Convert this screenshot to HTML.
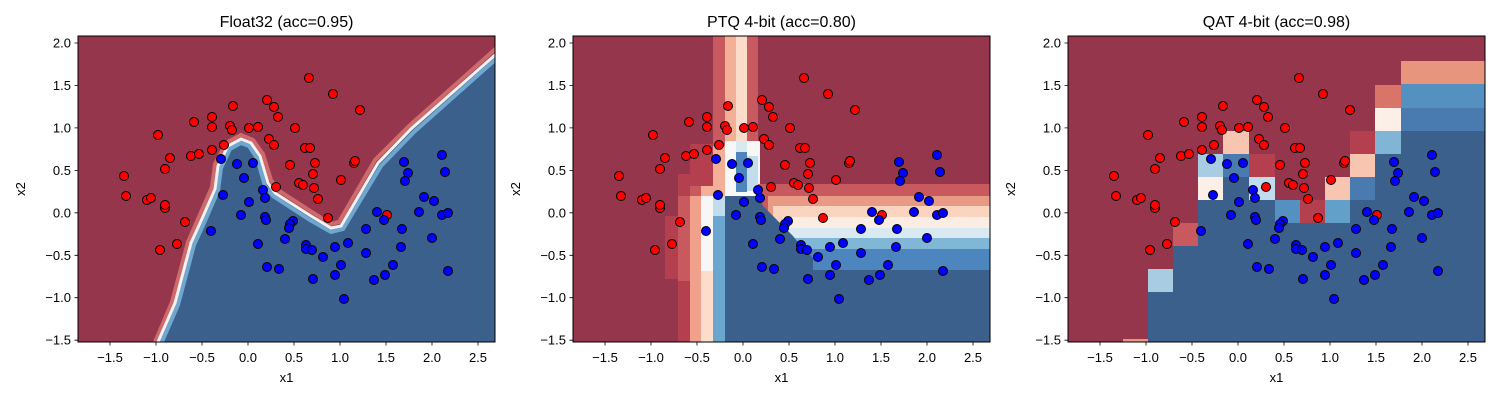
<!DOCTYPE html>
<html><head><meta charset="utf-8"><style>
body{margin:0;background:#fff;}
svg{display:block;font-family:"Liberation Sans","DejaVu Sans",sans-serif;}
.tl{font-size:13px;fill:#000;}
.tt{font-size:16px;fill:#000;}
</style></head><body>
<svg width="1500" height="400" viewBox="0 0 1500 400" xmlns="http://www.w3.org/2000/svg">
<defs>
<clipPath id="cp"><rect x="0" y="0" width="417" height="306"/></clipPath>
<g id="pts" stroke="#000" stroke-width="1">
<g fill="#ff0000">
<circle cx="231" cy="42" r="4.5"/><circle cx="255" cy="58" r="4.5"/><circle cx="282" cy="74" r="4.5"/><circle cx="189" cy="64" r="4.5"/><circle cx="196" cy="71" r="4.5"/><circle cx="200" cy="81" r="4.5"/><circle cx="155" cy="70" r="4.5"/><circle cx="134" cy="81" r="4.5"/><circle cx="116" cy="86" r="4.5"/><circle cx="134" cy="91" r="4.5"/><circle cx="152" cy="90" r="4.5"/><circle cx="154" cy="94" r="4.5"/><circle cx="171" cy="92" r="4.5"/><circle cx="180" cy="91" r="4.5"/><circle cx="217" cy="92" r="4.5"/><circle cx="80" cy="99" r="4.5"/><circle cx="191" cy="103" r="4.5"/><circle cx="196" cy="109" r="4.5"/><circle cx="146" cy="109" r="4.5"/><circle cx="227" cy="112" r="4.5"/><circle cx="232" cy="112" r="4.5"/><circle cx="92" cy="122" r="4.5"/><circle cx="113" cy="120" r="4.5"/><circle cx="121" cy="118" r="4.5"/><circle cx="134" cy="114" r="4.5"/><circle cx="212" cy="129" r="4.5"/><circle cx="237" cy="127" r="4.5"/><circle cx="276" cy="127" r="4.5"/><circle cx="277" cy="125" r="4.5"/><circle cx="235" cy="138" r="4.5"/><circle cx="87" cy="133" r="4.5"/><circle cx="46" cy="140" r="4.5"/><circle cx="263" cy="144" r="4.5"/><circle cx="221" cy="147" r="4.5"/><circle cx="225" cy="149" r="4.5"/><circle cx="236" cy="152" r="4.5"/><circle cx="198" cy="151" r="4.5"/><circle cx="48" cy="160" r="4.5"/><circle cx="69" cy="164" r="4.5"/><circle cx="73" cy="162" r="4.5"/><circle cx="87" cy="172" r="4.5"/><circle cx="87" cy="169" r="4.5"/><circle cx="240" cy="163" r="4.5"/><circle cx="309" cy="179" r="4.5"/><circle cx="250" cy="182" r="4.5"/><circle cx="107" cy="186" r="4.5"/><circle cx="99" cy="208" r="4.5"/><circle cx="82" cy="214" r="4.5"/>
</g>
<g fill="#0000ff">
<circle cx="143" cy="123" r="4.5"/><circle cx="159" cy="128" r="4.5"/><circle cx="175" cy="127" r="4.5"/><circle cx="166" cy="142" r="4.5"/><circle cx="185" cy="154" r="4.5"/><circle cx="187" cy="162" r="4.5"/><circle cx="145" cy="159" r="4.5"/><circle cx="171" cy="166" r="4.5"/><circle cx="163" cy="179" r="4.5"/><circle cx="187" cy="181" r="4.5"/><circle cx="188" cy="184" r="4.5"/><circle cx="215" cy="185" r="4.5"/><circle cx="212" cy="188" r="4.5"/><circle cx="211" cy="192" r="4.5"/><circle cx="133" cy="195" r="4.5"/><circle cx="180" cy="208" r="4.5"/><circle cx="207" cy="203" r="4.5"/><circle cx="228" cy="209" r="4.5"/><circle cx="228" cy="213" r="4.5"/><circle cx="234" cy="214" r="4.5"/><circle cx="245" cy="221" r="4.5"/><circle cx="257" cy="211" r="4.5"/><circle cx="270" cy="207" r="4.5"/><circle cx="288" cy="193" r="4.5"/><circle cx="288" cy="217" r="4.5"/><circle cx="299" cy="176" r="4.5"/><circle cx="306" cy="184" r="4.5"/><circle cx="324" cy="193" r="4.5"/><circle cx="323" cy="211" r="4.5"/><circle cx="315" cy="229" r="4.5"/><circle cx="307" cy="239" r="4.5"/><circle cx="296" cy="244" r="4.5"/><circle cx="263" cy="229" r="4.5"/><circle cx="257" cy="239" r="4.5"/><circle cx="235" cy="243" r="4.5"/><circle cx="266" cy="263" r="4.5"/><circle cx="189" cy="231" r="4.5"/><circle cx="201" cy="233" r="4.5"/><circle cx="364" cy="119" r="4.5"/><circle cx="367" cy="136" r="4.5"/><circle cx="326" cy="126" r="4.5"/><circle cx="330" cy="137" r="4.5"/><circle cx="327" cy="145" r="4.5"/><circle cx="346" cy="161" r="4.5"/><circle cx="356" cy="165" r="4.5"/><circle cx="341" cy="176" r="4.5"/><circle cx="364" cy="179" r="4.5"/><circle cx="370" cy="177" r="4.5"/><circle cx="354" cy="202" r="4.5"/><circle cx="370" cy="235" r="4.5"/>
</g>
</g>
<g id="ticks" stroke="#000" stroke-width="0.8">
<path d="M32 306v3.5M78 306v3.5M124 306v3.5M170 306v3.5M216 306v3.5M262 306v3.5M308 306v3.5M354 306v3.5M400 306v3.5"/>
<path d="M0 7h-3.5M0 49.5h-3.5M0 91.9h-3.5M0 134.4h-3.5M0 176.8h-3.5M0 219.3h-3.5M0 261.7h-3.5M0 304.2h-3.5"/>
</g>
</defs>

<!-- Panel 1 -->
<g transform="translate(78,36)">
<g clip-path="url(#cp)">
<rect width="417" height="306" fill="#95364d"/>
<polygon points="80,306 97,267 113,207 123,185 137,153 140,130 150,110 163,103 173,107 182,120 190,147 197,157 233,180 253,192 263,190 300,127 333,93 425,12 425,320 70,320" fill="#3b608c"/>
<polyline points="77,306 94,266 110,206 120,183 134,151 137,128 148,107 163,99 175,104 185,118 193,144 200,154 234,176 253,188 261,186 297,124 331,90 423,8" fill="none" stroke="#cf6a6c" stroke-width="4"/>
<polyline points="83,308 100,269 116,209 126,187 140,155 143,132 152,113 163,107 171,110 179,122 187,150 195,160 232,184 253,196 265,193 303,130 336,96 427,15" fill="none" stroke="#6fa7d0" stroke-width="4"/>
<polyline points="80,306 97,267 113,207 123,185 137,153 140,130 150,110 163,103 173,107 182,120 190,147 197,157 233,180 253,192 263,190 300,127 333,93 425,12" fill="none" stroke="#f7f2ef" stroke-width="3"/>
<use href="#pts"/>
</g>
<rect x="0" y="0" width="417" height="306" fill="none" stroke="#000" stroke-width="1"/>
<use href="#ticks"/>
<text class="tt" x="208.5" y="-9" text-anchor="middle">Float32 (acc=0.95)</text>
</g>

<!-- Panel 2 -->
<g transform="translate(573,36)">
<g clip-path="url(#cp)">
<rect width="417" height="306" fill="#95364d"/>
<!-- vertical band top -->
<rect x="140" y="0" width="45" height="306" fill="#c85a5f"/>
<rect x="152" y="0" width="22" height="306" fill="#f4b096"/>
<rect x="163" y="0" width="11" height="306" fill="#fbdccb"/>
<!-- lower left band (stepped) -->
<rect x="92" y="180" width="13" height="63" fill="#b4404f"/>
<rect x="105" y="138" width="12" height="107" fill="#b4404f"/>
<rect x="105" y="160" width="12" height="146" fill="#b4404f"/>
<rect x="105" y="160" width="12" height="85" fill="#c85a5f"/>
<rect x="117" y="108" width="23" height="198" fill="#b4404f"/>
<rect x="117" y="150" width="23" height="156" fill="#c85a5f"/>
<rect x="117" y="160" width="11" height="146" fill="#f0a08b"/>
<rect x="128" y="150" width="12" height="156" fill="#f4b096"/>
<rect x="128" y="160" width="12" height="75" fill="#f7f7f7"/>
<rect x="128" y="235" width="12" height="71" fill="#fcdccb"/>
<rect x="140" y="110" width="12" height="50" fill="#f4b096"/>
<rect x="152" y="105" width="35" height="60" fill="#f7f7f7"/>
<rect x="163" y="105" width="11" height="15" fill="#d9e9f1"/>
<rect x="163" y="116" width="11" height="40" fill="#4d86bf"/>
<rect x="174" y="120" width="11" height="35" fill="#c0dced"/>
<!-- horizontal band right -->
<rect x="185" y="148" width="240" height="100" fill="#c85a5f"/>
<rect x="195" y="160" width="230" height="80" fill="#e89a85"/>
<rect x="200" y="170" width="225" height="70" fill="#fbd4bf"/>
<rect x="210" y="181" width="215" height="60" fill="#fbece4"/>
<rect x="215" y="192" width="210" height="50" fill="#d9e9f1"/>
<rect x="220" y="202" width="205" height="40" fill="#80b6d6"/>
<rect x="230" y="213" width="195" height="30" fill="#4d86bf"/>
<polygon points="152,306 152,160 185,160 190,170 200,180 210,190 220,200 228,210 240,222 430,222 430,310 152,310" fill="#3b608c"/>
<rect x="240" y="222" width="190" height="12" fill="#4d86bf"/>
<rect x="140" y="160" width="12" height="146" fill="#6aa6cf"/>
<rect x="140" y="160" width="12" height="20" fill="#c0dced"/>
<use href="#pts"/>
</g>
<rect x="0" y="0" width="417" height="306" fill="none" stroke="#000" stroke-width="1"/>
<use href="#ticks"/>
<text class="tt" x="208.5" y="-9" text-anchor="middle">PTQ 4-bit (acc=0.80)</text>
</g>

<!-- Panel 3 -->
<g transform="translate(1068,36)">
<g clip-path="url(#cp)">
<rect width="417" height="306" fill="#95364d"/>
<polygon points="80,306 80,256 105,256 105,210 130,210 130,164 155,164 155,141 181,141 181,164 232,164 232,187 282,187 282,164 307,164 307,118 333,118 333,95 420,95 420,306" fill="#3b608c"/>
<rect x="333" y="25" width="87" height="23" fill="#e8957d"/>
<rect x="333" y="48" width="87" height="24" fill="#5490c0"/>
<rect x="333" y="72" width="87" height="23" fill="#4a7bb0"/>
<rect x="307" y="49" width="26" height="23" fill="#d97468"/>
<rect x="307" y="72" width="26" height="23" fill="#fcefe8"/>
<rect x="307" y="95" width="26" height="23" fill="#80b5d6"/>
<rect x="282" y="95" width="25" height="23" fill="#b4404f"/>
<rect x="282" y="118" width="25" height="23" fill="#f8c6b0"/>
<rect x="282" y="141" width="25" height="23" fill="#4a7bb0"/>
<rect x="257" y="141" width="25" height="23" fill="#f8c6b0"/>
<rect x="257" y="164" width="25" height="23" fill="#62a0ca"/>
<rect x="232" y="164" width="25" height="23" fill="#b4404f"/>
<rect x="207" y="164" width="25" height="23" fill="#5490c0"/>
<rect x="181" y="118" width="26" height="23" fill="#b4404f"/>
<rect x="181" y="141" width="26" height="23" fill="#c0dced"/>
<rect x="155" y="95" width="26" height="23" fill="#f8c6b0"/>
<rect x="155" y="118" width="26" height="23" fill="#4a7bb0"/>
<rect x="130" y="118" width="25" height="23" fill="#a8cde2"/>
<rect x="130" y="141" width="25" height="23" fill="#fcefe8"/>
<rect x="105" y="187" width="25" height="23" fill="#c85a5f"/>
<rect x="80" y="233" width="25" height="23" fill="#a8cde2"/>
<rect x="55" y="303" width="25" height="3" fill="#e8957d"/>
<use href="#pts"/>
</g>
<rect x="0" y="0" width="417" height="306" fill="none" stroke="#000" stroke-width="1"/>
<use href="#ticks"/>
<text class="tt" x="208.5" y="-9" text-anchor="middle">QAT 4-bit (acc=0.98)</text>
</g>

<g class="tl" text-anchor="middle">
<text x="110" y="362">−1.5</text><text x="156" y="362">−1.0</text><text x="202" y="362">−0.5</text><text x="248" y="362">0.0</text><text x="294" y="362">0.5</text><text x="340" y="362">1.0</text><text x="386" y="362">1.5</text><text x="432" y="362">2.0</text><text x="478" y="362">2.5</text>
<text x="605" y="362">−1.5</text><text x="651" y="362">−1.0</text><text x="697" y="362">−0.5</text><text x="743" y="362">0.0</text><text x="789" y="362">0.5</text><text x="835" y="362">1.0</text><text x="881" y="362">1.5</text><text x="927" y="362">2.0</text><text x="973" y="362">2.5</text>
<text x="1100" y="362">−1.5</text><text x="1146" y="362">−1.0</text><text x="1192" y="362">−0.5</text><text x="1238" y="362">0.0</text><text x="1284" y="362">0.5</text><text x="1330" y="362">1.0</text><text x="1376" y="362">1.5</text><text x="1422" y="362">2.0</text><text x="1468" y="362">2.5</text>
<text x="286.5" y="382">x1</text><text x="781.5" y="382">x1</text><text x="1276.5" y="382">x1</text>
</g>
<g class="tl" text-anchor="end">
<text x="71" y="47.5">2.0</text><text x="71" y="90">1.5</text><text x="71" y="132.4">1.0</text><text x="71" y="174.9">0.5</text><text x="71" y="217.3">0.0</text><text x="71" y="259.8">−0.5</text><text x="71" y="302.2">−1.0</text><text x="71" y="344.7">−1.5</text>
<text x="566" y="47.5">2.0</text><text x="566" y="90">1.5</text><text x="566" y="132.4">1.0</text><text x="566" y="174.9">0.5</text><text x="566" y="217.3">0.0</text><text x="566" y="259.8">−0.5</text><text x="566" y="302.2">−1.0</text><text x="566" y="344.7">−1.5</text>
<text x="1061" y="47.5">2.0</text><text x="1061" y="90">1.5</text><text x="1061" y="132.4">1.0</text><text x="1061" y="174.9">0.5</text><text x="1061" y="217.3">0.0</text><text x="1061" y="259.8">−0.5</text><text x="1061" y="302.2">−1.0</text><text x="1061" y="344.7">−1.5</text>
</g>
<g class="tl" text-anchor="middle">
<text transform="translate(25,189) rotate(-90)">x2</text>
<text transform="translate(520,189) rotate(-90)">x2</text>
<text transform="translate(1015,189) rotate(-90)">x2</text>
</g>
</svg>
</body></html>
